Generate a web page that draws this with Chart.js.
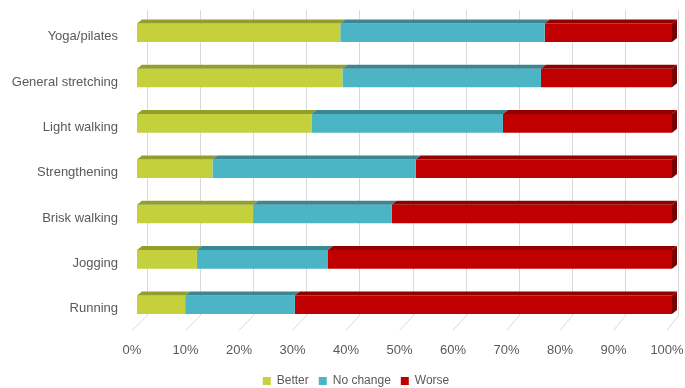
<!DOCTYPE html>
<html>
<head>
<meta charset="utf-8">
<script src="https://cdn.jsdelivr.net/npm/chart.js@4/dist/chart.umd.min.js"></script>
<style>
  html, body { margin: 0; padding: 0; background: #fff; }
  #wrap { width: 685px; height: 388px; position: relative; }
</style>
</head>
<body>
<div id="wrap"><canvas id="activity-chart"></canvas></div>
<script>
var categories = ['Yoga/pilates', 'General stretching', 'Light walking', 'Strengthening', 'Brisk walking', 'Jogging', 'Running'];
var better   = [38.0, 38.4, 32.6, 14.1, 21.7, 11.2, 9.0];
var noChange = [38.2, 37.1, 35.8, 38.0, 25.9, 24.5, 20.5];
var worse    = [23.8, 24.5, 31.6, 47.9, 52.4, 64.3, 70.5];
var seriesNames = ['Better', 'No change', 'Worse'];
var xTicks = [0, 10, 20, 30, 40, 50, 60, 70, 80, 90, 100];

var frontColors = ['#C4D13C', '#4BB5C6', '#C00000'];
var topColors   = ['#949E2C', '#3A8793', '#910000'];
var sideColor   = '#780000';

// fake 3d: back wall gridlines + floor, then top faces and end cap on the bars
var depthPlugin = {
  id: 'depth',
  afterLayout: function(chart){
    // legend in the original is centred a bit right of the canvas middle
    chart.legend.left = 27;
    chart.legend.right = chart.width;
  },
  beforeDatasetsDraw: function(chart){
    var ctx = chart.ctx;
    var area = chart.chartArea;
    var xs = chart.scales.x;
    ctx.save();
    ctx.strokeStyle = '#D9D9D9';
    ctx.lineWidth = 1;
    xTicks.forEach(function(v){
      var xf = xs.getPixelForValue(v);
      var xb = Math.round(xf + 10 - 4 * v / 100) + 0.5;
      ctx.beginPath();
      ctx.moveTo(xb, area.top);
      ctx.lineTo(xb, area.bottom - 12);
      ctx.lineTo(xf - 5, area.bottom + 3);
      ctx.stroke();
    });
    ctx.restore();
  },
  afterDatasetsDraw: function(chart){
    var ctx = chart.ctx;
    var dx = 5, dy = 4;
    ctx.save();
    chart.data.datasets.forEach(function(ds, i){
      var meta = chart.getDatasetMeta(i);
      meta.data.forEach(function(bar){
        var p = bar.getProps(['x', 'y', 'base', 'height'], true);
        var top = p.y - p.height / 2;
        var bottom = p.y + p.height / 2;
        ctx.fillStyle = topColors[i];
        ctx.beginPath();
        ctx.moveTo(p.base, top);
        ctx.lineTo(p.x, top);
        ctx.lineTo(p.x + dx, top - dy);
        ctx.lineTo(p.base + dx, top - dy);
        ctx.closePath();
        ctx.fill();
        if (i === chart.data.datasets.length - 1) {
          ctx.fillStyle = sideColor;
          ctx.beginPath();
          ctx.moveTo(p.x, top);
          ctx.lineTo(p.x + dx, top - dy);
          ctx.lineTo(p.x + dx, bottom - dy);
          ctx.lineTo(p.x, bottom);
          ctx.closePath();
          ctx.fill();
        }
      });
    });
    ctx.restore();
  }
};

var ctx = document.getElementById('activity-chart').getContext('2d');
var myChart = new Chart(ctx, {
  type: 'bar',
  data: {
    labels: categories,
    datasets: [
      { label: seriesNames[0], data: better,   backgroundColor: frontColors[0], borderWidth: 0 },
      { label: seriesNames[1], data: noChange, backgroundColor: frontColors[1], borderWidth: 0 },
      { label: seriesNames[2], data: worse,    backgroundColor: frontColors[2], borderWidth: 0 }
    ]
  },
  options: {
    indexAxis: 'y',
    responsive: true,
    maintainAspectRatio: false,
    animation: false,
    datasets: {
      bar: { barPercentage: 0.41, categoryPercentage: 1 }
    },
    layout: {
      padding: { left: 0, right: 0, top: 10, bottom: -9 }
    },
    scales: {
      x: {
        stacked: true,
        min: 0,
        max: 100,
        grid: { display: false, drawTicks: false },
        border: { display: false },
        afterFit: function(scale){
          scale.height = 37.6;
          scale.paddingLeft = 0;
          scale.paddingRight = 13;
        },
        ticks: {
          stepSize: 10,
          padding: 15,
          labelOffset: -5,
          color: '#595959',
          font: { family: 'Liberation Sans', size: 13 },
          callback: function(value){ return value + '%'; }
        }
      },
      y: {
        stacked: true,
        grid: { display: false, drawTicks: false },
        border: { display: false },
        afterFit: function(scale){
          scale.width = 137;
          scale.paddingTop = 0;
          scale.paddingBottom = 0;
        },
        ticks: {
          padding: 19,
          labelOffset: 4,
          color: '#595959',
          font: { family: 'Liberation Sans', size: 13 }
        }
      }
    },
    plugins: {
      legend: {
        position: 'bottom',
        labels: {
          boxWidth: 8,
          boxHeight: 8,
          padding: 10,
          color: '#595959',
          font: { family: 'Liberation Sans', size: 12 }
        }
      },
      tooltip: { enabled: false }
    }
  },
  plugins: [depthPlugin]
});
</script>
</body>
</html>
